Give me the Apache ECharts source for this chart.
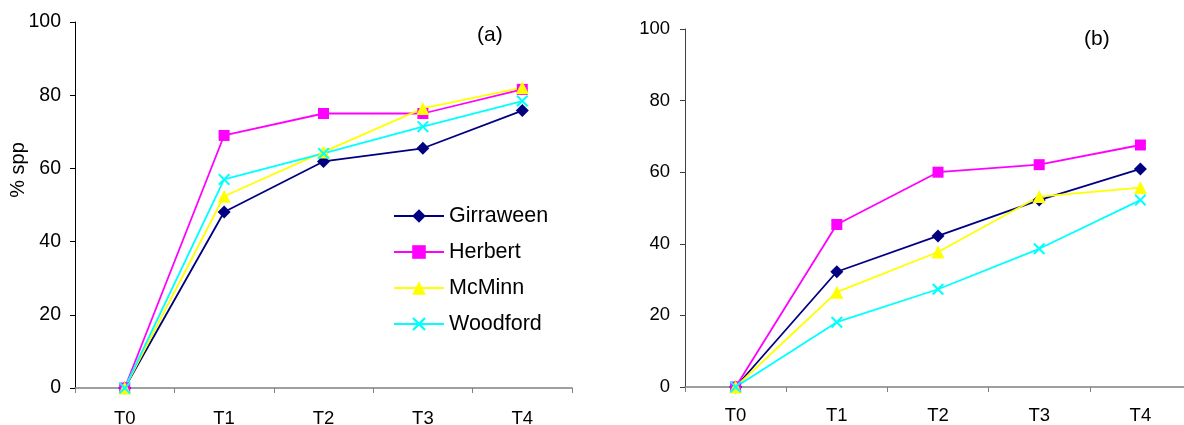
<!DOCTYPE html>
<html>
<head>
<meta charset="utf-8">
<script src="https://cdn.jsdelivr.net/npm/echarts@6/dist/echarts.min.js"></script>
<style>
html,body{margin:0;padding:0;background:#fff;}
#c{width:1184px;height:425px;}
</style>
</head>
<body>
<div id="c"></div>
<script>
const categories = ['T0', 'T1', 'T2', 'T3', 'T4'];
const seriesNames = ['Girraween', 'Herbert', 'McMinn', 'Woodford'];
// Panel (a)
const girraweenA = [0, 48.1, 61.9, 65.5, 75.8];
const herbertA   = [0, 69.0, 75.0, 75.0, 81.6];
const mcminnA    = [0, 52.4, 64.5, 76.4, 82.1];
const woodfordA  = [0, 57.0, 64.1, 71.4, 78.4];
// Panel (b)
const girraweenB = [0, 32.2, 42.2, 52.2, 60.9];
const herbertB   = [0, 45.4, 60.0, 62.1, 67.6];
const mcminnB    = [0, 26.5, 37.7, 53.2, 55.7];
const woodfordB  = [0, 18.1, 27.3, 38.6, 52.2];
const yTicks = [0, 20, 40, 60, 80, 100];

const colors = ['#000080', '#FF00FF', '#FFFF00', '#00FFFF'];
const xPath = 'path://M0,1.2L1.2,0L5,3.8L8.8,0L10,1.2L6.2,5L10,8.8L8.8,10L5,6.2L1.2,10L0,8.8L3.8,5Z';
const symbols = ['diamond', 'rect', 'triangle', xPath];
const symbolSizes = [13, 11, 13, 12];
const font = 'Liberation Sans, Arial, sans-serif';

const chart = echarts.init(document.getElementById('c'), null, {renderer: 'canvas'});

function xAxis(gi, fs, margin) {
  return {
    type: 'category', gridIndex: gi, data: categories, boundaryGap: true,
    axisLine: {show: true, lineStyle: {color: '#808080', width: 1.5}},
    axisTick: {show: true, inside: false, length: 5, alignWithLabel: false, lineStyle: {color: '#808080', width: 1}},
    axisLabel: {color: '#000', fontSize: fs, fontFamily: font, margin: margin},
    splitLine: {show: false}
  };
}
function yAxis(gi, fs, margin, col) {
  return {
    type: 'value', gridIndex: gi, min: yTicks[0], max: yTicks[yTicks.length - 1], interval: 20,
    axisLine: {show: true, lineStyle: {color: col, width: 1}},
    axisTick: {show: true, inside: false, length: 5, lineStyle: {color: col, width: 1}},
    axisLabel: {color: '#000', fontSize: fs, fontFamily: font, margin: margin},
    splitLine: {show: false}
  };
}
function mk(name, idx, data, gi) {
  return {
    name: name, type: 'line', xAxisIndex: gi, yAxisIndex: gi, data: data,
    symbol: symbols[idx], symbolSize: symbolSizes[idx], symbolKeepAspect: true,
    showAllSymbol: true,
    lineStyle: {color: colors[idx], width: 1.8},
    itemStyle: {color: colors[idx]},
    emphasis: {disabled: true},
    animation: false
  };
}

const dataA = [girraweenA, herbertA, mcminnA, woodfordA];
const dataB = [girraweenB, herbertB, mcminnB, woodfordB];
const series = [];
seriesNames.forEach((n, i) => series.push(mk(n, i, dataA[i], 0)));
seriesNames.forEach((n, i) => series.push(mk(n, i, dataB[i], 1)));

chart.setOption({
  animation: false,
  backgroundColor: '#fff',
  grid: [
    {left: 75, top: 22, width: 497, height: 366, outerBoundsMode: 'none', containLabel: false},
    {left: 685, top: 29, width: 506, height: 358, outerBoundsMode: 'none', containLabel: false}
  ],
  xAxis: [xAxis(0, 18.5, 21), xAxis(1, 18.5, 19)],
  yAxis: [yAxis(0, 19.5, 14, '#000'), yAxis(1, 18.5, 15, '#404040')],
  legend: {
    orient: 'vertical', left: 388, top: 200, padding: 5, itemWidth: 50, itemHeight: 17, itemGap: 14,
    data: seriesNames,
    textStyle: {color: '#000', fontSize: 21.5, fontFamily: font},
    selectedMode: false
  },
  graphic: [
    {type: 'text', left: 477, top: 25, style: {text: '(a)', fontSize: 21, fontFamily: font, fill: '#000'}},
    {type: 'text', left: 1084, top: 29, style: {text: '(b)', fontSize: 21, fontFamily: font, fill: '#000'}},
    {type: 'text', x: 18, y: 170, rotation: Math.PI / 2,
     style: {text: '% spp', fontSize: 20, fontFamily: font, fill: '#000', align: 'center', verticalAlign: 'middle'}}
  ],
  series: series
});
</script>
</body>
</html>
